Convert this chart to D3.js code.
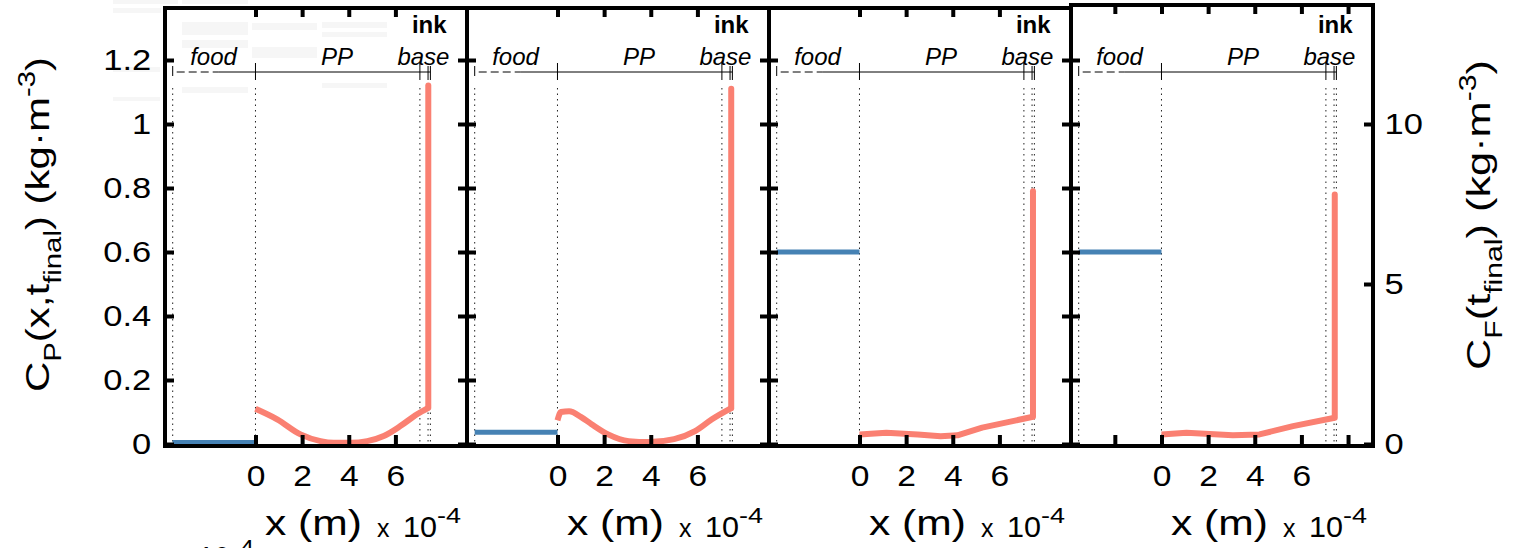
<!DOCTYPE html>
<html><head><meta charset="utf-8">
<script src="https://cdn.jsdelivr.net/npm/d3@7"></script>
<style>
body{margin:0;background:#fff;}
svg{display:block;font-family:"Liberation Sans",Arial,Helvetica,sans-serif;}
</style>
</head><body>
<svg id="c" width="1518" height="548"></svg>
<script>
// ---------------- data ----------------
const panelIds = [0, 1, 2, 3];
const xTickValues = [[0,2,4,6],[0,2,4,6],[0,2,4,6],[-2,0,2,4,6,8]];
const xTickLabels = [0, 2, 4, 6];
const yTicksLeft = [0, 0.2, 0.4, 0.6, 0.8, 1, 1.2];
const yTicksRight = [0, 5, 10];
const layerEdges = [-3.55, 0, 7.05, 7.4, 7.5];       // x 1e-4 m
const layerNames = ["food", "PP", "base", "ink"];
const layerLabelX = [-1.8, 3.5, 7.2, 7.45];
const foodConc = [0.05, 0.37, 6.0, 6.0];              // C_F (kg/m3), right axis
const redX = [
  [0, 0.93, 1.93, 2.79, 3.36, 4.07, 4.79, 5.5, 6.21, 6.93, 7.41, 7.41],
  [0, 0.15, 0.5, 1.0, 1.46, 2.17, 3.06, 3.94, 5.0, 5.9, 6.64, 7.45, 7.45],
  [0, 1.15, 2.5, 3.48, 4.2, 5.26, 7.44, 7.44],
  [0, 1.07, 3.06, 4.2, 5.64, 7.43, 7.43]
];
const redY = [
  [0.110, 0.077, 0.030, 0.009, 0.004, 0.004, 0.009, 0.025, 0.056, 0.093, 0.113, 1.12],
  [0.074, 0.100, 0.102, 0.085, 0.062, 0.030, 0.009, 0.006, 0.015, 0.040, 0.078, 0.112, 1.11],
  [0.030, 0.035, 0.030, 0.024, 0.027, 0.051, 0.085, 0.79],
  [0.030, 0.035, 0.027, 0.030, 0.056, 0.082, 0.78]
];
const smoothCurve = [true, true, false, false];

// ---------------- layout ----------------
const X0 = 165, PW = 302, Y0 = 444, YTOP = 8;
const panelTop = [8, 8, 8, 5];
const RED = "#fa8072", BLUE = "#4682b4";

const svg = d3.select("#c");

// faint scan artefacts (very light grey bars)
const ghost = [[113,0,65,4],[182,0,66,4],[113,8,48,5],[182,22,66,13],[182,40,66,8],[252,23,65,7],
               [322,22,65,6],[322,32,65,5],[252,47,65,11],[182,87,66,6],[322,83,65,5],[113,67,47,5],[113,97,47,4]];
svg.append("g").selectAll("rect").data(ghost).join("rect")
  .attr("x", d => d[0]).attr("y", d => d[1]).attr("width", d => d[2]).attr("height", d => d[3])
  .attr("fill", "#f6f6f6");

function fitText(sel, w) {
  const n = sel.node();
  const len = n.getComputedTextLength();
  return w / len;
}
function addText(g, o) {
  const t = g.append("text").attr("font-size", o.size).text(o.text)
    .attr("text-anchor", o.anchor || "start")
    .attr("font-weight", o.weight || "normal")
    .attr("font-style", o.style || "normal").attr("fill", "#000");
  const sx = o.width ? fitText(t, o.width) : (o.sx || 1);
  t.attr("transform", `translate(${o.x},${o.y}) rotate(${o.rot || 0}) scale(${sx},1)`);
  return t;
}

const yL = d3.scaleLinear().domain([0, (Y0 - YTOP) / 320]).range([Y0, YTOP]);
const yR = d3.scaleLinear().domain([0, (Y0 - YTOP) / 32]).range([Y0, YTOP]);

panelIds.forEach(i => {
  const x0 = X0 + i * PW;
  const x = d3.scaleLinear().domain([-3.88, 9.07]).range([x0, x0 + PW]);
  const g = svg.append("g");

  // dotted layer boundaries
  g.selectAll("line.dot").data(layerEdges).join("line")
    .attr("x1", d => x(d)).attr("x2", d => x(d)).attr("y1", 88).attr("y2", Y0)
    .attr("stroke", "#222").attr("stroke-width", 1).attr("stroke-dasharray", "1.5,4");

  // header: layer scale bar
  const hy = 72;
  g.append("line").attr("x1", x(layerEdges[0]) + 4).attr("x2", x(-1.6)).attr("y1", hy).attr("y2", hy)
    .attr("stroke", "#000").attr("stroke-width", 1).attr("stroke-dasharray", "8,4");
  g.append("line").attr("x1", x(-1.6)).attr("x2", x(layerEdges[4])).attr("y1", hy).attr("y2", hy)
    .attr("stroke", "#000").attr("stroke-width", 1);
  g.selectAll("line.htick").data(layerEdges).join("line")
    .attr("x1", d => x(d)).attr("x2", d => x(d))
    .attr("y1", (d, k) => k === 0 ? 66 : (k >= 3 ? 66 : 63)).attr("y2", (d, k) => k === 0 ? 76 : 80)
    .attr("stroke", "#000").attr("stroke-width", 1);
  layerNames.forEach((nm, k) => {
    if (nm === "ink") {
      addText(g, {x: x(layerLabelX[k]), y: 33, text: nm, size: 24, anchor: "middle", weight: "bold"});
    } else {
      addText(g, {x: x(layerLabelX[k]), y: 65, text: nm, size: 24, anchor: "middle", style: "italic"});
    }
  });

  // food concentration (blue)
  g.append("path")
    .attr("d", d3.line()([[x(layerEdges[0]), yR(foodConc[i])], [x(0), yR(foodConc[i])]]))
    .attr("stroke", BLUE).attr("stroke-width", 5).attr("fill", "none");

  // polymer concentration (red)
  const pts = redX[i].map((v, k) => [v, redY[i][k]]);
  const n = pts.length;
  const body = pts.slice(0, n - 1);
  const lineGen = d3.line().x(d => x(d[0])).y(d => yL(d[1]))
    .curve(smoothCurve[i] ? d3.curveMonotoneX : d3.curveLinear);
  g.append("path").attr("d", lineGen(body))
    .attr("stroke", RED).attr("stroke-width", 6).attr("fill", "none").attr("stroke-linejoin", "round");
  g.append("path").attr("d", d3.line().x(d => x(d[0])).y(d => yL(d[1]))(pts.slice(n - 2)))
    .attr("stroke", RED).attr("stroke-width", 6).attr("fill", "none").attr("stroke-linecap", "round");

  // frame
  g.append("rect").attr("x", x0).attr("y", panelTop[i]).attr("width", PW).attr("height", 446 - panelTop[i])
    .attr("fill", "none").attr("stroke", "#000").attr("stroke-width", 4);

  // axes
  const styleAxis = (ax) => {
    ax.select(".domain").remove();
    ax.attr("font-family", null).attr("font-size", null);
    ax.selectAll(".tick line").attr("stroke", "#000").attr("stroke-width", 4);
    ax.selectAll(".tick text").attr("font-size", 30).attr("fill", "#000");
  };
  const left = g.append("g").attr("transform", `translate(${x0},0)`)
    .call(d3.axisLeft(yL).tickValues(yTicksLeft).tickSize(-9).tickPadding(12)
      .tickFormat(i === 0 ? d3.format("~g") : () => ""));
  styleAxis(left);
  left.selectAll(".tick text").attr("transform", "scale(1.15,1)");

  const right = g.append("g").attr("transform", `translate(${x0 + PW},0)`)
    .call(i === 3
      ? d3.axisRight(yR).tickValues(yTicksRight).tickSize(-9).tickPadding(10).tickFormat(d3.format("~g"))
      : d3.axisRight(yL).tickValues(yTicksLeft).tickSize(-9).tickFormat(() => ""));
  styleAxis(right);
  right.selectAll(".tick text").attr("transform", "scale(1.15,1)");

  const bottom = g.append("g").attr("transform", `translate(0,${Y0})`)
    .call(d3.axisBottom(x).tickValues(xTickValues[i]).tickSize(-9).tickPadding(21)
      .tickFormat(d => xTickLabels.includes(d) ? d3.format("~g")(d) : ""));
  styleAxis(bottom);
  bottom.selectAll(".tick text").attr("transform", "scale(1.12,1)");

  const top = g.append("g").attr("transform", `translate(0,${panelTop[i]})`)
    .call(d3.axisTop(x).tickValues(xTickValues[i]).tickSize(-9).tickFormat(() => ""));
  styleAxis(top);

  // x label
  addText(g, {x: x0 + 100, y: 535, text: "x (m)", size: 35, width: 97});
  addText(g, {x: x0 + 212, y: 537, text: "x", size: 25});
  addText(g, {x: x0 + 238, y: 537, text: "10", size: 30, width: 34});
  addText(g, {x: x0 + 272, y: 523, text: "-4", size: 22, width: 24});
});

// cut-off fragment at bottom-left (as in the original figure)
addText(svg, {x: 198, y: 567, text: "10", size: 30, width: 32});
addText(svg, {x: 232, y: 555, text: "-4", size: 22, width: 22});

// rotated y labels with sub/superscripts
function richLabel(x, y, parts, target) {
  const t = svg.append("text").attr("fill", "#000");
  parts.forEach(p => {
    t.append("tspan").text(p.t).attr("font-size", p.s).attr("dy", p.dy || 0);
  });
  const len = t.node().getComputedTextLength();
  t.attr("transform", `translate(${x},${y}) rotate(-90) scale(${target / len},1)`);
}
richLabel(49, 392, [
  {t: "C", s: 33}, {t: "P", s: 23, dy: 12}, {t: "(x,t", s: 33, dy: -12},
  {t: "final", s: 23, dy: 12}, {t: ") (kg·m", s: 33, dy: -12}, {t: "-3", s: 23, dy: -14}, {t: ")", s: 33, dy: 14}
], 335);
richLabel(1490, 370, [
  {t: "C", s: 33}, {t: "F", s: 23, dy: 12}, {t: "(t", s: 33, dy: -12},
  {t: "final", s: 23, dy: 12}, {t: ") (kg·m", s: 33, dy: -12}, {t: "-3", s: 23, dy: -14}, {t: ")", s: 33, dy: 14}
], 310);
</script>
</body></html>
